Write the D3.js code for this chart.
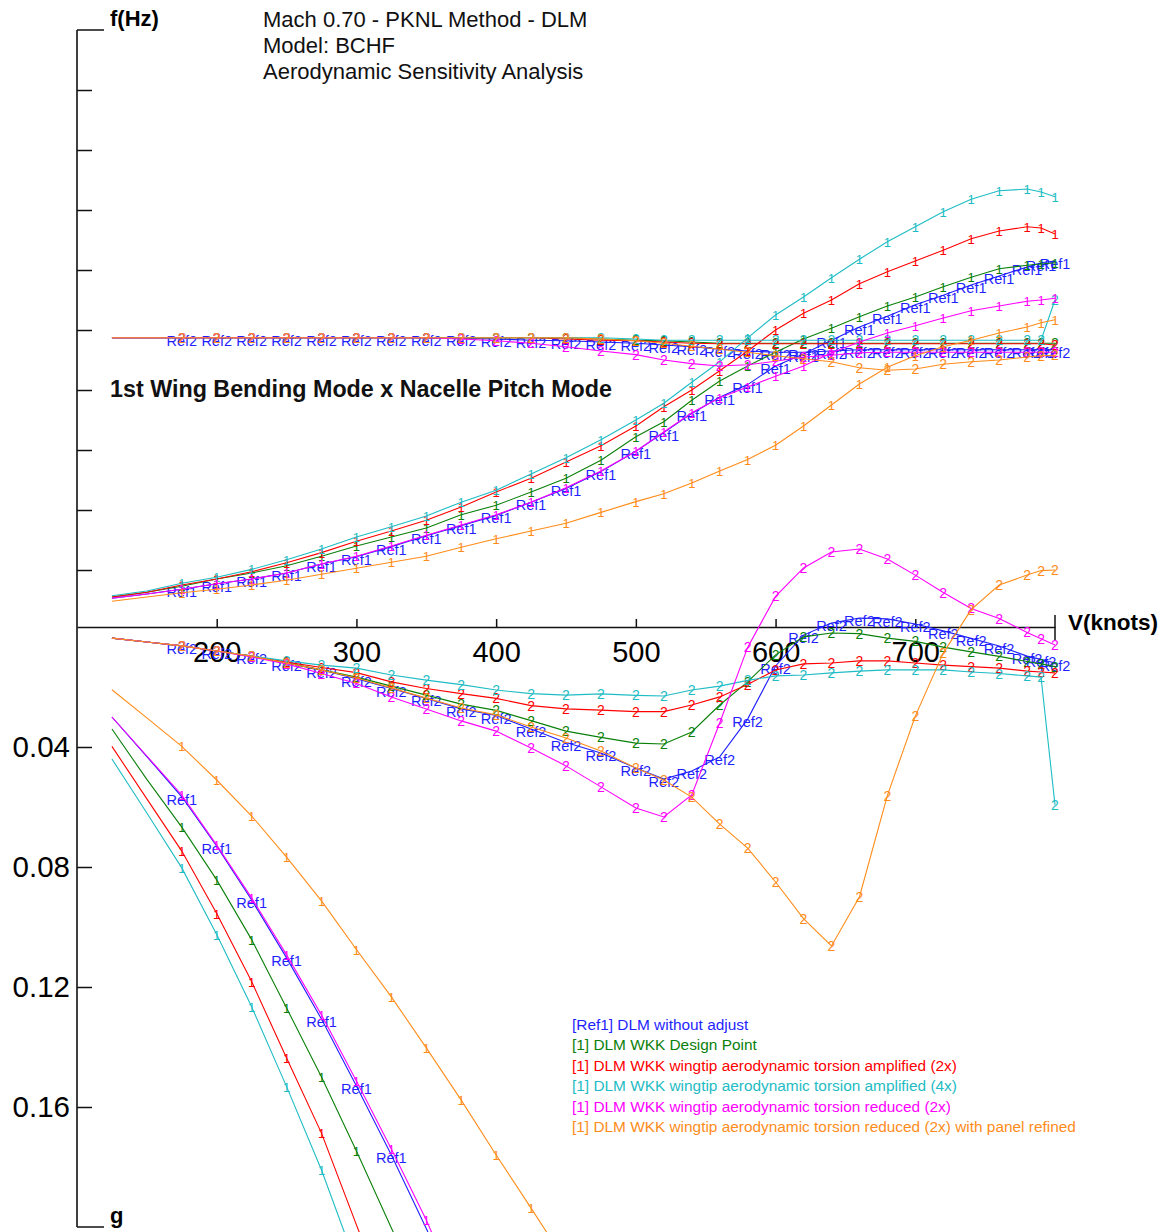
<!DOCTYPE html>
<html><head><meta charset="utf-8">
<script src="https://cdn.jsdelivr.net/npm/d3@7"></script>
<style>
body{margin:0;background:#fff;}
svg{display:block;}
text{font-family:"Liberation Sans",Arial,sans-serif;}
</style>
</head><body>
<svg id="chart" width="1167" height="1232"></svg>
<script>
// ---------------- DATA ----------------
const speedKnots = [125,150,175,200,225,250,275,300,325,350,375,400,425,450,475,500,520,540,560,580,600,620,640,660,680,700,720,740,760,780,790,800];

const seriesNames = [
  "[Ref1] DLM without adjust",
  "[1] DLM WKK Design Point",
  "[1] DLM WKK wingtip aerodynamic torsion amplified (2x)",
  "[1] DLM WKK wingtip aerodynamic torsion amplified (4x)",
  "[1] DLM WKK wingtip aerodynamic torsion reduced (2x)",
  "[1] DLM WKK wingtip aerodynamic torsion reduced (2x) with panel refined"
];
const mode1Marks = ["Ref1","1","1","1","1","1"];
const mode2Marks = ["Ref2","2","2","2","2","2"];

// Frequency (Hz), mode 1 (1st wing bending)
const freqRef1    = [0.53,0.60,0.68,0.77,0.85,0.95,1.10,1.22,1.39,1.57,1.74,1.91,2.13,2.36,2.64,2.98,3.29,3.61,3.88,4.09,4.40,4.60,4.83,5.05,5.23,5.42,5.58,5.75,5.90,6.05,6.12,6.15];
const freqDesign1 = [0.55,0.63,0.73,0.85,0.95,1.07,1.23,1.40,1.55,1.70,1.92,2.08,2.30,2.53,2.83,3.22,3.47,3.83,4.15,4.40,4.63,4.85,5.03,5.22,5.40,5.55,5.72,5.88,6.02,6.08,6.10,6.12];
const freqAmp2x1  = [0.55,0.63,0.75,0.85,0.97,1.12,1.29,1.48,1.65,1.83,2.05,2.30,2.53,2.80,3.07,3.40,3.72,4.00,4.32,4.65,5.00,5.28,5.50,5.77,5.97,6.15,6.33,6.52,6.65,6.72,6.70,6.60];
const freqAmp4x1  = [0.57,0.65,0.78,0.88,1.01,1.17,1.35,1.55,1.72,1.90,2.13,2.33,2.60,2.87,3.17,3.50,3.78,4.13,4.47,4.87,5.25,5.55,5.87,6.18,6.47,6.72,6.97,7.18,7.32,7.35,7.30,7.22];
const freqRed2x1  = [0.53,0.60,0.68,0.77,0.85,0.95,1.10,1.23,1.40,1.58,1.75,1.92,2.13,2.37,2.65,2.98,3.30,3.62,3.87,4.05,4.23,4.40,4.62,4.80,4.95,5.07,5.20,5.32,5.40,5.48,5.50,5.53];
const freqRed2xP1 = [0.48,0.55,0.62,0.68,0.75,0.83,0.93,1.03,1.13,1.23,1.38,1.52,1.65,1.78,1.96,2.14,2.27,2.45,2.65,2.84,3.08,3.40,3.75,4.10,4.38,4.57,4.72,4.83,4.95,5.05,5.12,5.17];

// Frequency (Hz), mode 2 (nacelle pitch)
const freqRef2    = [4.87,4.87,4.87,4.87,4.87,4.87,4.87,4.87,4.87,4.87,4.86,4.85,4.83,4.82,4.80,4.78,4.75,4.72,4.68,4.65,4.63,4.63,4.65,4.67,4.67,4.67,4.67,4.67,4.67,4.67,4.67,4.67];
const freqDesign2 = [4.87,4.87,4.87,4.87,4.87,4.87,4.87,4.87,4.87,4.87,4.87,4.87,4.87,4.87,4.85,4.83,4.82,4.80,4.78,4.78,4.78,4.78,4.78,4.78,4.78,4.78,4.78,4.78,4.78,4.78,4.78,4.78];
const freqAmp2x2  = [4.87,4.87,4.87,4.87,4.87,4.87,4.87,4.87,4.87,4.87,4.87,4.87,4.87,4.85,4.83,4.82,4.80,4.78,4.77,4.77,4.77,4.77,4.77,4.77,4.77,4.77,4.77,4.77,4.77,4.77,4.77,4.75];
const freqAmp4x2  = [4.87,4.87,4.87,4.87,4.87,4.87,4.87,4.87,4.87,4.87,4.87,4.87,4.87,4.87,4.87,4.85,4.83,4.83,4.83,4.83,4.83,4.83,4.83,4.83,4.83,4.83,4.83,4.83,4.83,4.83,4.83,5.50];
const freqRed2x2  = [4.87,4.87,4.87,4.87,4.87,4.87,4.87,4.87,4.87,4.87,4.85,4.82,4.78,4.72,4.65,4.59,4.50,4.44,4.40,4.42,4.48,4.55,4.58,4.62,4.63,4.63,4.63,4.63,4.63,4.63,4.63,4.63];
const freqRed2xP2 = [4.87,4.87,4.87,4.87,4.87,4.87,4.87,4.87,4.87,4.87,4.87,4.87,4.87,4.87,4.85,4.82,4.78,4.73,4.68,4.63,4.57,4.52,4.47,4.37,4.33,4.35,4.43,4.47,4.50,4.55,4.57,4.58];

// Damping g, mode 1 (values listed from the first speed until the curve leaves the chart)
const dampRef1    = [0.030,0.0432,0.0566,0.0731,0.091,0.1103,0.1307,0.153,0.176,0.2005,0.226];
const dampDesign1 = [0.034,0.0508,0.0667,0.0843,0.1042,0.127,0.150,0.1747,0.2003,0.226];
const dampAmp2x1  = [0.0398,0.0573,0.0747,0.0955,0.1182,0.1437,0.1687,0.1993,0.2293];
const dampAmp4x1  = [0.044,0.062,0.0803,0.1025,0.1266,0.1532,0.181,0.2127];
const dampRed2x1  = [0.030,0.043,0.056,0.0727,0.0903,0.1093,0.1293,0.1513,0.174,0.1977,0.2243];
const dampRed2xP1 = [0.0209,0.0303,0.0398,0.051,0.063,0.0767,0.0913,0.1075,0.1233,0.1403,0.1577,0.176,0.1937,0.2117];

// Damping g, mode 2
const dampRef2    = [0.0037,0.005,0.0063,0.008,0.0097,0.012,0.0143,0.0172,0.0205,0.0238,0.0273,0.0295,0.034,0.0385,0.042,0.047,0.0507,0.048,0.0433,0.0307,0.013,0.0027,-0.0013,-0.003,-0.0027,-0.001,0.0013,0.0038,0.0063,0.0097,0.0108,0.012];
const dampDesign2 = [0.0037,0.005,0.0063,0.008,0.0097,0.012,0.0143,0.0167,0.0197,0.0227,0.0257,0.0278,0.0312,0.0347,0.0368,0.0387,0.039,0.035,0.026,0.0183,0.0093,0.0033,0.002,0.0022,0.0037,0.0048,0.0067,0.0083,0.0098,0.0115,0.0123,0.0132];
const dampAmp2x2  = [0.0037,0.005,0.0063,0.008,0.0097,0.0117,0.0135,0.0152,0.0183,0.0205,0.0222,0.0238,0.0262,0.0273,0.0277,0.0282,0.0282,0.026,0.0233,0.0192,0.0143,0.0123,0.012,0.0113,0.0113,0.012,0.0127,0.0132,0.0137,0.0147,0.015,0.0153];
const dampAmp4x2  = [0.0037,0.005,0.0063,0.008,0.0097,0.0113,0.0127,0.0137,0.016,0.0177,0.0192,0.021,0.0222,0.0227,0.0223,0.0228,0.023,0.021,0.0197,0.0178,0.0163,0.016,0.0153,0.0147,0.0143,0.0143,0.0143,0.015,0.0155,0.0163,0.0167,0.0593];
const dampRed2x2  = [0.0037,0.005,0.0063,0.008,0.010,0.0123,0.0155,0.0188,0.0233,0.0273,0.0313,0.0347,0.0403,0.0463,0.0533,0.0603,0.0633,0.056,0.032,0.0068,-0.0102,-0.0197,-0.025,-0.026,-0.0227,-0.0173,-0.0115,-0.0062,-0.0028,0.0018,0.0039,0.006];
const dampRed2xP2 = [0.0037,0.005,0.0063,0.008,0.0097,0.012,0.0143,0.017,0.0203,0.0237,0.027,0.0293,0.0333,0.037,0.0413,0.047,0.051,0.0567,0.0657,0.0737,0.085,0.0972,0.1063,0.09,0.0562,0.0297,0.0087,-0.0058,-0.014,-0.0173,-0.0188,-0.019];

const speedTicks = [200,300,400,500,600,700];
const freqTicks = [1,2,3,4,5,6,7,8,9];
const dampTicks = [0.04,0.08,0.12,0.16];
const titleLines = ["Mach 0.70 - PKNL Method - DLM","Model: BCHF","Aerodynamic Sensitivity Analysis"];
const plotLabel = "1st Wing Bending Mode x Nacelle Pitch Mode";

// ---------------- STYLE ----------------
const seriesColors = ["#1f1fff","#0a800a","#ff0000","#1ebcc4","#ff00ff","#ff8c1a"];

// ---------------- BUILD ----------------
const series = seriesNames.map((name,i)=>({
  name, color: seriesColors[i], mk1: mode1Marks[i], mk2: mode2Marks[i],
  f1: [freqRef1,freqDesign1,freqAmp2x1,freqAmp4x1,freqRed2x1,freqRed2xP1][i],
  f2: [freqRef2,freqDesign2,freqAmp2x2,freqAmp4x2,freqRed2x2,freqRed2xP2][i],
  g1: [dampRef1,dampDesign1,dampAmp2x1,dampAmp4x1,dampRed2x1,dampRed2xP1][i],
  g2: [dampRef2,dampDesign2,dampAmp2x2,dampAmp4x2,dampRed2x2,dampRed2xP2][i]
}));

const svg = d3.select("#chart");
const x  = d3.scaleLinear().domain([100,800]).range([77,1055]);
const yF = d3.scaleLinear().domain([0.05,10]).range([627,30]);
const yG = d3.scaleLinear().domain([0,0.2]).range([627,1227]);

// axes
const axisColor = "#111";
svg.append("line").attr("x1",x(100)).attr("x2",x(100)).attr("y1",yF(10)).attr("y2",yG(0.2))
  .attr("stroke",axisColor).attr("stroke-width",1.6);
svg.append("line").attr("x1",x(100)).attr("x2",x(100)+27).attr("y1",yF(10)).attr("y2",yF(10))
  .attr("stroke",axisColor).attr("stroke-width",1.5);
svg.append("line").attr("x1",x(100)).attr("x2",x(100)+27).attr("y1",yG(0.2)).attr("y2",yG(0.2))
  .attr("stroke",axisColor).attr("stroke-width",1.5);

svg.append("g").attr("transform",`translate(${x(100)},0)`)
  .call(d3.axisRight(yF).tickValues(freqTicks).tickSize(15).tickFormat(""))
  .call(g=>{g.select(".domain").remove(); g.selectAll("line").attr("stroke",axisColor).attr("stroke-width",1.5);});

svg.append("g").attr("transform",`translate(${x(100)},0)`)
  .call(d3.axisLeft(yG).tickValues(dampTicks).tickSizeInner(-15).tickSizeOuter(0).tickPadding(7).tickFormat(d3.format(".2f")))
  .call(g=>{g.select(".domain").remove(); g.selectAll("line").attr("stroke",axisColor).attr("stroke-width",1.5);
    g.selectAll("text").attr("font-size",29.5).attr("fill","#000").attr("font-family","Liberation Sans, Arial, sans-serif");});

svg.append("g").attr("transform",`translate(0,${yG(0)})`)
  .call(d3.axisBottom(x).tickValues(speedTicks).tickSizeInner(-8).tickSizeOuter(0).tickPadding(14).tickFormat(d3.format("d")))
  .call(g=>{g.select(".domain").attr("stroke",axisColor).attr("stroke-width",1.6);
    g.selectAll("line").attr("stroke",axisColor).attr("stroke-width",1.5);
    g.selectAll("text").attr("font-size",29).attr("fill","#000").attr("font-family","Liberation Sans, Arial, sans-serif");});
svg.append("line").attr("x1",x(800)).attr("x2",x(800)).attr("y1",yG(0)-12).attr("y2",yG(0)+13)
  .attr("stroke",axisColor).attr("stroke-width",1.5);

// axis titles
svg.append("text").attr("x",110).attr("y",26).attr("font-size",22).attr("font-weight","bold").text("f(Hz)");
svg.append("text").attr("x",110).attr("y",1223).attr("font-size",22).attr("font-weight","bold").text("g");
svg.append("text").attr("x",1068).attr("y",630).attr("font-size",22.5).attr("font-weight","bold").text("V(knots)");

// titles
titleLines.forEach((t,i)=>svg.append("text").attr("x",263).attr("y",27+i*26).attr("font-size",22).attr("fill","#111").text(t));
svg.append("text").attr("x",110).attr("y",397).attr("font-size",23.3).attr("font-weight","bold").attr("fill","#111").text(plotLabel);

// curves
const lineF = d3.line().x(d=>x(d.v)).y(d=>yF(d.val));
const lineG = d3.line().x(d=>x(d.v)).y(d=>yG(d.val));
const pts = arr => arr.map((val,i)=>({v:speedKnots[i], val, i})).filter(d=>d.val!=null);

const plotLayer = svg.append("g");
series.forEach(s=>{
  const g = plotLayer.append("g");
  const panels = [
    {data:pts(s.f1), gen:lineF, y:yF, mk:s.mk1},
    {data:pts(s.f2), gen:lineF, y:yF, mk:s.mk2},
    {data:pts(s.g1), gen:lineG, y:yG, mk:s.mk1},
    {data:pts(s.g2), gen:lineG, y:yG, mk:s.mk2}
  ];
  panels.forEach(p=>{
    g.append("path").datum(p.data).attr("d",p.gen).attr("fill","none").attr("stroke",s.color).attr("stroke-width",1.1);
    const isRef = p.mk.length>1;
    g.selectAll(null).data(p.data.filter(d=>d.i>=2 && p.y(d.val)<=1222)).enter().append("text")
      .attr("x",d=>x(d.v)).attr("y",d=>p.y(d.val)+(isRef?8:5))
      .attr("text-anchor","middle")
      .attr("font-size",isRef?14.5:(p.mk==="1"?13:14))
      .attr("fill",s.color)
      .text(p.mk);
  });
});

// legend
series.forEach((s,i)=>{
  svg.append("text").attr("x",572).attr("y",1030+i*20.4).attr("font-size",15.4).attr("fill",s.color).text(s.name);
});
</script>
</body></html>
